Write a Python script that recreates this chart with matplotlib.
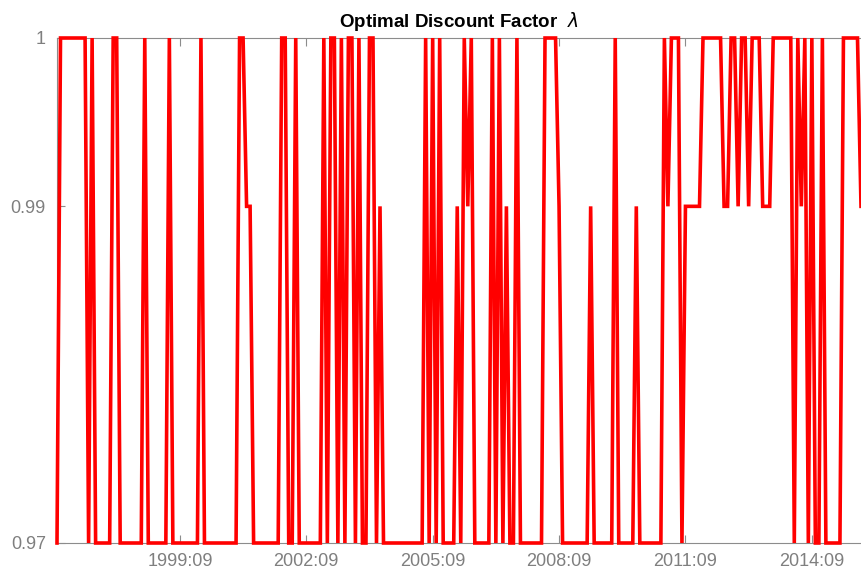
import numpy as np
import matplotlib.pyplot as plt

plt.rcParams['font.family'] = ['Liberation Sans', 'DejaVu Sans']

# monthly values, 1996:10 .. 2015:11 (one row per stretch)
H, M, L = 1.0, 0.99, 0.97
lam = [
    L, H, H, H, H, H, H, H, H, L, H, L,            # 0-11
    L, L, L, L, H, H, L, L, L, L, L, L,            # 12-23
    L, H, L, L, L, L, L, L, H, L, L, L,            # 24-35
    L, L, L, L, L, H, L, L, L, L, L, L,            # 36-47
    L, L, L, L, H, H, M, M, L, L, L, L,            # 48-59
    L, L, L, L, H, H, L, L, H, L, L, L,            # 60-71
    L, L, L, L, H, L, H, H, L, H, L, H,            # 72-83
    H, L, H, L, L, H, H, L, M, L, L, L,            # 84-95
    L, L, L, L, L, L, L, L, L, H, L, H,            # 96-107
    L, H, L, L, L, L, M, L, H, M, H, L,            # 108-119
    L, L, L, L, H, L, H, L, M, L, L, H,            # 120-131
    L, L, L, L, L, L, L, H, H, H, H, M,            # 132-143
    L, L, L, L, L, L, L, L, M, L, L, L,            # 144-155
    L, L, L, H, L, L, L, L, L, M, L, L,            # 156-167
    L, L, L, L, L, H, M, H, H, H, L, M,            # 168-179
    M, M, M, M, H, H, H, H, H, H, M, M,            # 180-191
    H, H, M, H, H, M, H, H, H, M, M, M,            # 192-203
    H, H, H, H, H, H, L, H, M, H, L, H,            # 204-215
    L, L, H, L, L, L, L, L, H, H, H, H,            # 216-227
    H, M,                                          # 228-229
]
tick_labels = ['1999:09', '2002:09', '2005:09', '2008:09', '2011:09', '2014:09']
tick_months = [35, 71, 107, 143, 179, 215]

fig = plt.figure(figsize=(8.61, 5.75), dpi=100)
ax = fig.add_axes([57 / 861, 1 - 543 / 575, 1 - 57 / 861, (543 - 38) / 575])

x = np.arange(len(lam))
ax.plot(x, lam, color='#ff0000', lw=2.6, solid_joinstyle='miter',
        zorder=3, clip_on=False)

ax.set_xlim(0, len(lam) - 1)
ax.set_ylim(0.97, 1.0)
ax.set_yticks([0.97, 0.99, 1.0])
ax.set_yticklabels(['0.97', '0.99', '1'])
ax.set_xticks(tick_months)
ax.set_xticklabels(tick_labels)

gray = '#8c8c8c'
for s in ['left', 'bottom', 'top']:
    ax.spines[s].set_color(gray)
ax.spines['right'].set_visible(False)
ax.tick_params(direction='in', colors=gray, labelcolor='#7f7f7f', labelsize=13,
               length=6, top=True)
ax.tick_params(axis='x', pad=7)
ax.tick_params(axis='y', pad=8)

ax.set_title('Optimal Discount Factor  $\\lambda$', fontsize=13.5,
             fontweight='bold', pad=8)

fig.savefig('out.png', dpi=100)
